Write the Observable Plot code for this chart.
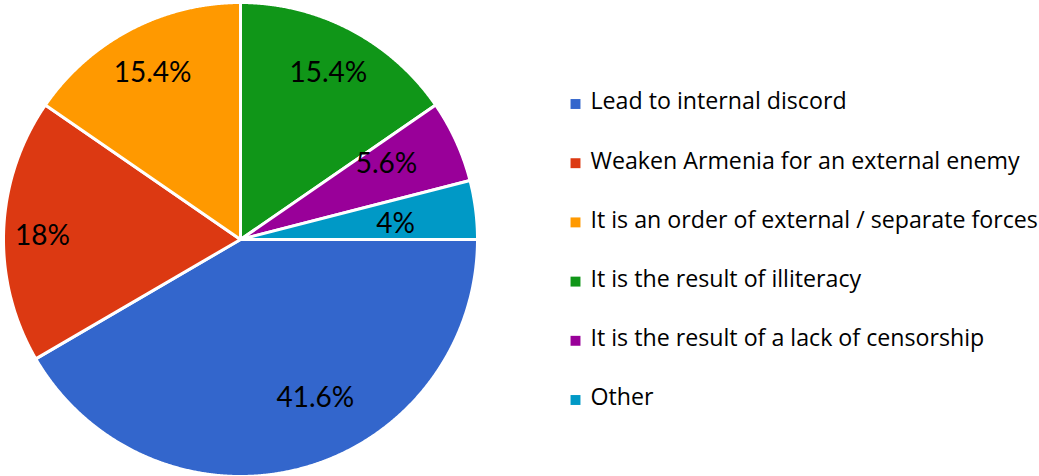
<!DOCTYPE html>
<html><head><meta charset="utf-8">
<script src="https://cdn.jsdelivr.net/npm/d3@7"></script>
<script src="https://cdn.jsdelivr.net/npm/@observablehq/plot@0.6"></script>
<style>html,body{margin:0;padding:0;background:#fff;}</style>
</head><body><div id="chart"></div>
<script>
// ---- data ----
const categories = [
  "Lead to internal discord",
  "Weaken Armenia for an external enemy",
  "It is an order of external / separate forces",
  "It is the result of illiteracy",
  "It is the result of a lack of censorship",
  "Other"
];
const shares = [41.6, 18, 15.4, 15.4, 5.6, 4];
const shareLabels = ["41.6%", "18%", "15.4%", "15.4%", "5.6%", "4%"];
const colors = ["#3366cc", "#dc3912", "#ff9900", "#109618", "#990099", "#0099c6"];

// ---- layout (not data) ----
const W = 1039, H = 476;
const CX = 240, CY = 239, R = 237, START_DEG = 90;
// label placement as [angle (deg, clockwise from north), radius px]
const labelPolar = [[154.5, 174], [271.4, 198], [332.3, 189], [27.7, 189], [62.2, 165], [84.1, 156]];
const legendX = 575, legendTextX = 590, legendY0 = 101.5, legendStep = 59.2;

// ---- build slices from shares ----
const total = d3.sum(shares);
const slicePts = [];
let acc = START_DEG;
shares.forEach((v, i) => {
  const a0 = acc, a1 = acc + v / total * 360;
  acc = a1;
  slicePts.push({cat: categories[i], x: CX, y: CY});
  const n = Math.max(2, Math.ceil((a1 - a0) / 0.25));
  for (let k = 0; k <= n; k++) {
    const a = (a0 + (a1 - a0) * k / n) * Math.PI / 180;
    slicePts.push({cat: categories[i], x: CX + R * Math.sin(a), y: CY - R * Math.cos(a)});
  }
  slicePts.push({cat: categories[i], x: CX, y: CY});
});

const labels = shareLabels.map((t, i) => {
  const a = labelPolar[i][0] * Math.PI / 180, r = labelPolar[i][1];
  return {text: t, x: CX + r * Math.sin(a), y: CY - r * Math.cos(a) + 1};
});

const legend = categories.map((c, i) => ({cat: c, y: legendY0 + i * legendStep}));

const chart = Plot.plot({
  width: W, height: H, margin: 0,
  x: {domain: [0, W], range: [0, W], axis: null},
  y: {domain: [0, H], range: [0, H], axis: null},
  color: {domain: categories, range: colors},
  style: {background: "#fff"},
  marks: [
    Plot.line(slicePts, {x: "x", y: "y", z: "cat", fill: "cat", stroke: "white", strokeWidth: 3, strokeLinejoin: "round", curve: "linear"}),
    Plot.text(labels, {x: "x", y: "y", text: "text", fill: "black", fontSize: 28, fontFamily: "Lato", textAnchor: "middle", lineAnchor: "middle"}),
    Plot.dot(legend, {x: legendX, y: d => d.y + 2, fill: "cat", symbol: "square", r: 5.6, stroke: null}),
    Plot.text(legend, {x: legendTextX, y: "y", text: "cat", fill: "black", fontSize: 23.2, fontFamily: "Open Sans", textAnchor: "start", lineAnchor: "middle"})
  ]
});
document.getElementById("chart").appendChild(chart);
</script>
</body></html>
